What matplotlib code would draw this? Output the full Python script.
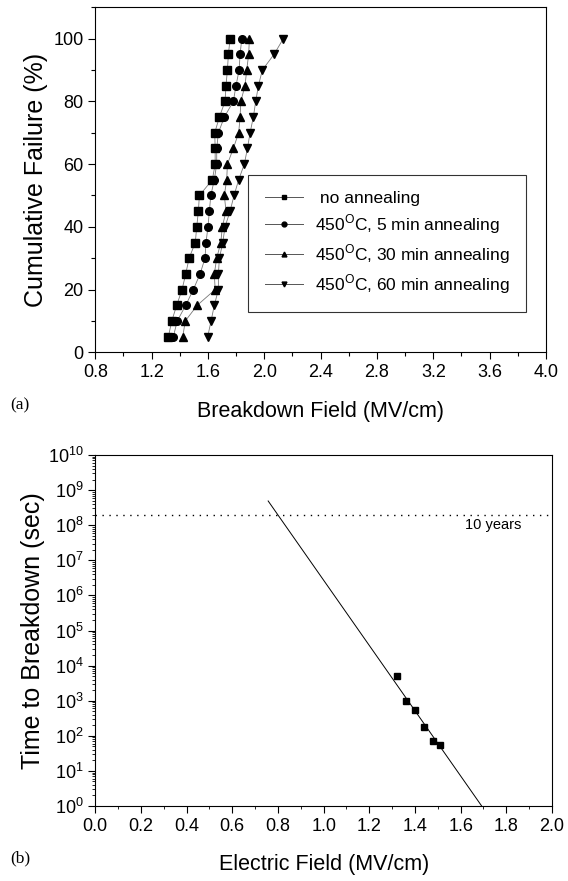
import numpy as np
import matplotlib
matplotlib.use("Agg")
import matplotlib.pyplot as plt
from matplotlib.ticker import MultipleLocator, LogLocator, NullFormatter

plt.rcParams['font.family'] = ['Liberation Sans', 'DejaVu Sans']
plt.rcParams['mathtext.fontset'] = 'custom'
plt.rcParams['mathtext.rm'] = 'Liberation Sans'

# ---------------- (a) cumulative failure ----------------
failure_pct = [5, 10, 15, 20, 25, 30, 35, 40, 45, 50,
               55, 60, 65, 70, 75, 80, 85, 90, 95, 100]

field_no_anneal = [1.319, 1.343, 1.378, 1.416, 1.442, 1.466, 1.510, 1.520, 1.532, 1.539,
                   1.631, 1.651, 1.651, 1.648, 1.681, 1.721, 1.728, 1.738, 1.745, 1.757]
field_5min = [1.354, 1.382, 1.442, 1.496, 1.544, 1.579, 1.586, 1.600, 1.610, 1.620,
              1.645, 1.662, 1.662, 1.674, 1.716, 1.780, 1.799, 1.821, 1.828, 1.840]
field_30min = [1.421, 1.439, 1.524, 1.651, 1.645, 1.662, 1.691, 1.702, 1.728, 1.716,
               1.733, 1.738, 1.780, 1.818, 1.828, 1.833, 1.863, 1.875, 1.889, 1.894]
field_60min = [1.598, 1.622, 1.645, 1.674, 1.674, 1.681, 1.705, 1.721, 1.757, 1.785,
               1.818, 1.858, 1.880, 1.899, 1.922, 1.939, 1.958, 1.986, 2.069, 2.135]

series_labels = [" no annealing",
                 r"450$^{\mathrm{O}}$C, 5 min annealing",
                 r"450$^{\mathrm{O}}$C, 30 min annealing",
                 r"450$^{\mathrm{O}}$C, 60 min annealing"]

# ---------------- (b) time to breakdown ----------------
stress_field = [1.32, 1.36, 1.40, 1.44, 1.48, 1.51]
tbd_sec = [5000, 1000, 550, 180, 70, 55]
fit_field = [0.757, 1.692]
fit_tbd = [10 ** 8.69, 1.0]
ten_years = 2.0e8

W, H = 568, 881
fig = plt.figure(figsize=(W / 100, H / 100), dpi=100)

def ax_rect(x0, y0, x1, y1):
    return [x0 / W, 1 - y1 / H, (x1 - x0) / W, (y1 - y0) / H]

TICK_FS = 13
XLAB_FS = 15.5
YLAB_FS = 18

# ------------------------------------------------
# panel (a)
# ------------------------------------------------
ax1 = fig.add_axes(ax_rect(95.3, 7.3, 546, 352.3))
markers = ['s', 'o', '^', 'v']
for xs, m, lab in zip([field_no_anneal, field_5min, field_30min, field_60min], markers, series_labels):
    ax1.plot(xs, failure_pct, color='#777777', lw=0.6, zorder=1)
    ax1.plot(xs, failure_pct, ls='none', marker=m, ms=5.5, color='black',
             mec='black', zorder=2)
    # legend proxy
    ax1.plot([], [], color='#555555', lw=0.7, marker=m, ms=3.5, mfc='black',
             mec='black', label=lab)

ax1.set_xlim(0.8, 4.0)
ax1.set_ylim(0, 110)
ax1.xaxis.set_major_locator(MultipleLocator(0.4))
ax1.xaxis.set_minor_locator(MultipleLocator(0.2))
ax1.yaxis.set_minor_locator(MultipleLocator(10))
ax1.set_yticks([0, 20, 40, 60, 80, 100])
ax1.xaxis.set_major_formatter(plt.FuncFormatter(lambda v, p: f"{v:.1f}"))
ax1.tick_params(which='major', direction='out', length=5, width=0.8, labelsize=TICK_FS)
ax1.tick_params(which='minor', direction='out', length=3, width=0.8)
ax1.set_xlabel("Breakdown Field (MV/cm)", fontsize=XLAB_FS, labelpad=14)
ax1.set_ylabel("Cumulative Failure (%)", fontsize=YLAB_FS, labelpad=4)

handles, labels = ax1.get_legend_handles_labels()
leg = ax1.legend(handles[-4:], labels[-4:], loc='lower right',
                 bbox_to_anchor=(0.956, 0.116), fontsize=12.5, frameon=True,
                 fancybox=False, edgecolor='black', handlelength=2.2,
                 borderpad=0.95, labelspacing=0.36, handletextpad=0.7,
                 borderaxespad=0)
leg.get_frame().set_linewidth(0.8)

fig.text(10 / W, 1 - 405 / H, "(a)", fontsize=12.5, family='Liberation Serif',
         va='center', ha='left')

# ------------------------------------------------
# panel (b)
# ------------------------------------------------
ax2 = fig.add_axes(ax_rect(95.3, 455, 552, 806))
ax2.set_yscale('log')
ax2.plot(fit_field, fit_tbd, color='black', lw=0.7)
ax2.plot(stress_field, tbd_sec, ls='none', marker='s', ms=5, color='black')
ax2.axhline(ten_years, color='black', lw=1.0, ls=(0, (1, 4)))
ax2.text(1.62, ten_years * 0.5, "10 years", fontsize=10.5, va='center', ha='left')

ax2.set_xlim(0.0, 2.0)
ax2.set_ylim(1, 1e10)
ax2.xaxis.set_major_locator(MultipleLocator(0.2))
ax2.xaxis.set_minor_locator(MultipleLocator(0.1))
ax2.xaxis.set_major_formatter(plt.FuncFormatter(lambda v, p: f"{v:.1f}"))
ax2.yaxis.set_major_locator(LogLocator(base=10, numticks=20))
ax2.yaxis.set_minor_locator(LogLocator(base=10, subs=np.arange(2, 10), numticks=20))
ax2.yaxis.set_minor_formatter(NullFormatter())
ax2.tick_params(which='major', direction='out', length=5, width=0.8, labelsize=TICK_FS)
ax2.tick_params(which='minor', direction='out', length=2.5, width=0.6)
ax2.set_xlabel("Electric Field (MV/cm)", fontsize=XLAB_FS, labelpad=14)
ax2.set_ylabel("Time to Breakdown (sec)", fontsize=YLAB_FS, labelpad=2)

fig.text(10 / W, 1 - 858 / H, "(b)", fontsize=12.5, family='Liberation Serif',
         va='center', ha='left')

fig.savefig("out.png", dpi=100)
